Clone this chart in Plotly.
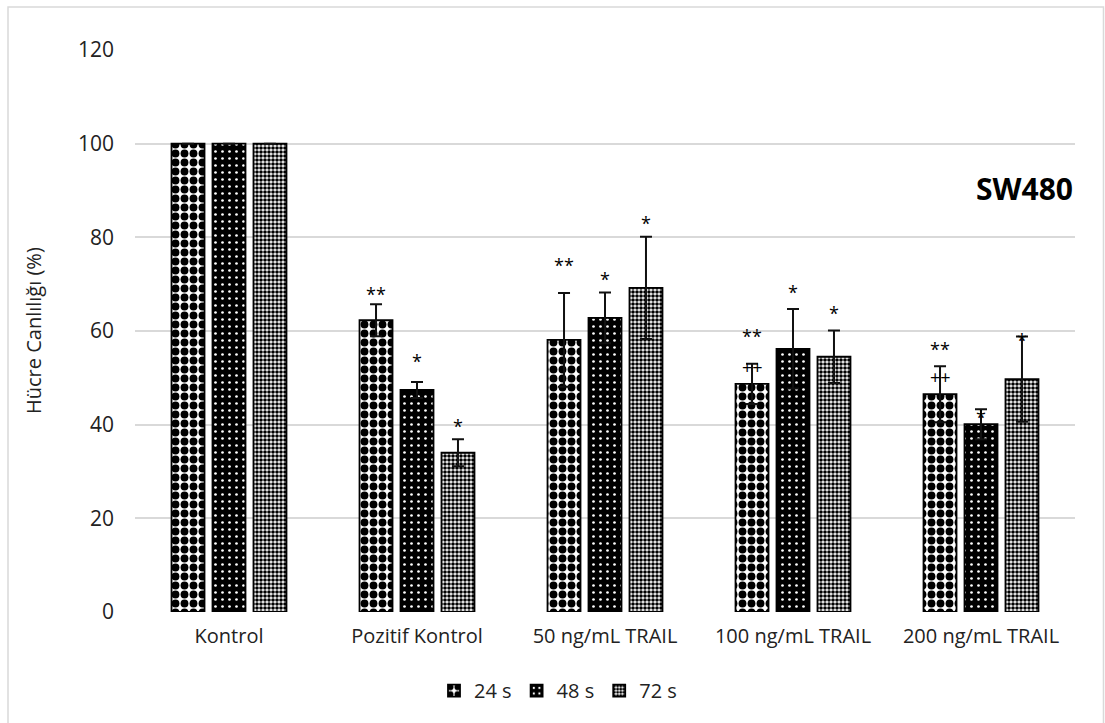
import plotly.graph_objects as go

# Cell viability (%) of SW480 cells after 24, 48 and 72 h
categories = ["Kontrol", "Pozitif Kontrol", "50 ng/mL TRAIL", "100 ng/mL TRAIL", "200 ng/mL TRAIL"]
series_names = ["24 s", "48 s", "72 s"]

viab_24 = [100, 62.3, 58.1, 48.7, 46.5]
viab_48 = [100, 47.4, 62.8, 56.2, 40.1]
viab_72 = [100, 34.0, 69.2, 54.5, 49.7]

err_24 = [0, 3.4, 10.0, 4.3, 6.0]
err_48 = [0, 1.7, 5.4, 8.5, 3.2]
err_72 = [0, 2.9, 10.9, 5.6, 9.1]

# significance marks above each bar (vs. control: *, **; vs. positive control: ++)
sig_24 = ["", "**", "**", "**", "**"]
sig_48 = ["", "*", "*", "*", "*"]
sig_72 = ["", "*", "*", "*", "*"]
sig_y_24 = [None, 68.0, 74.2, 58.9, 56.2]
sig_y_48 = [None, 53.5, 71.2, 68.3, 41.6]
sig_y_72 = [None, 39.8, 83.0, 63.8, 58.0]
plus_24 = ["", "", "", "++", "++"]
plus_y_24 = [None, None, None, 52.3, 50.2]

y_ticks = [0, 20, 40, 60, 80, 100, 120]

FONT = "Open Sans, Liberation Sans, sans-serif"

patterns = [
    dict(shape=".", bgcolor="white", fgcolor="black", size=9, solidity=0.6, fgopacity=1),
    dict(shape=".", bgcolor="black", fgcolor="white", size=7, solidity=0.12, fgopacity=1),
    dict(shape=".", bgcolor="white", fgcolor="black", size=4, solidity=0.64, fgopacity=1),
]

fig = go.Figure()
for name, vals, errs, pat in zip(series_names, [viab_24, viab_48, viab_72],
                                 [err_24, err_48, err_72], patterns):
    fig.add_trace(go.Bar(
        name=name,
        x=categories,
        y=vals,
        marker=dict(color=pat["bgcolor"], pattern=pat,
                    line=dict(color="black", width=1.8)),
        error_y=dict(type="data", array=errs, visible=True,
                     color="#111111", thickness=2, width=6),
    ))

# significance annotations, shifted to sit over their bar in the group
slot_px = 41
mark_sets = [(sig_24, sig_y_24, 0), (sig_48, sig_y_48, 1), (sig_72, sig_y_72, 2),
             (plus_24, plus_y_24, 0)]
for marks, ys, k in mark_sets:
    for cat, m, yv in zip(categories, marks, ys):
        if not m:
            continue
        fig.add_annotation(x=cat, y=yv, xref="x", yref="y", text=m,
                           showarrow=False, xshift=(k - 1) * slot_px,
                           yanchor="middle",
                           font=dict(family=FONT, size=18, color="black"))

fig.add_annotation(x=1.0, y=0.753, xref="paper", yref="paper", text="<b>SW480</b>",
                   showarrow=False, xanchor="right", yanchor="middle",
                   font=dict(family=FONT, size=30, color="black"))

fig.add_annotation(x=-0.1085, y=0.5, xref="paper", yref="paper",
                   text="Hücre Canlılığı (%)", textangle=-90, showarrow=False,
                   xanchor="center", yanchor="middle",
                   font=dict(family=FONT, size=20, color="#222222"))

# outer chart frame
fig.add_shape(type="rect", xref="paper", yref="paper",
              x0=-0.1351, x1=1.0303, y0=-0.21, y1=1.0765,
              line=dict(color="#d9d9d9", width=1.5), fillcolor="rgba(0,0,0,0)", layer="below")

fig.update_layout(
    width=1105, height=723,
    margin=dict(l=135, r=30, t=50, b=111),
    paper_bgcolor="white", plot_bgcolor="white",
    barmode="group", bargap=0.346, bargroupgap=0.195,
    font=dict(family=FONT, size=20, color="#222222"),
    showlegend=True,
    legend=dict(orientation="h", x=0.45, xanchor="center", y=-0.14, yanchor="middle",
                font=dict(family=FONT, size=20, color="#222222"),
                itemwidth=30, tracegroupgap=0),
    xaxis=dict(showgrid=False, showline=False, zeroline=False, ticks="",
               ticklabelstandoff=10, tickfont=dict(size=20)),
    yaxis=dict(range=[0, 120], tickvals=y_ticks, showgrid=True,
               gridcolor="#d9d9d9", gridwidth=1.5, zeroline=False,
               showline=False, ticks="", ticklabelstandoff=20,
               tickfont=dict(size=21)),
)

fig.write_html("out.html")
